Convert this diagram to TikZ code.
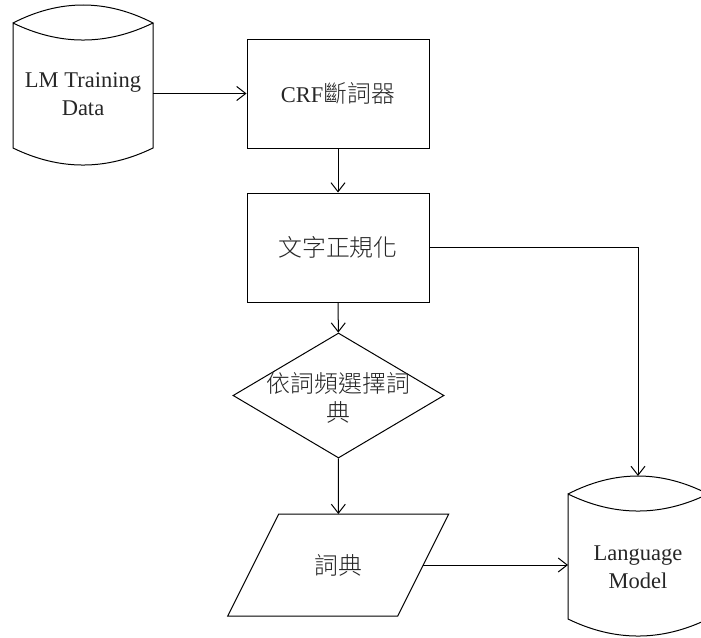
\documentclass[tikz,border=0pt]{standalone}
\usepackage{fontspec}
\setmainfont{Liberation Serif}
\newfontfamily\cjk[Scale=1.06]{Noto Sans CJK TC Light}
\usetikzlibrary{arrows.meta,calc,shapes.geometric}

% cylinder outline (database symbol) around a hidden body node
\newcommand\drawcyl[1]{%
  \draw (#1.north west) .. controls +(46.7,-24) and +(-46.7,-24) .. (#1.north east)
    .. controls +(-46.7,22.7) and +(46.7,22.7) .. (#1.north west)
    -- (#1.south west) .. controls +(46.7,22.7) and +(-46.7,22.7) .. (#1.south east)
    -- (#1.north east);}

\begin{document}
\begin{tikzpicture}[x=1pt,y=-1pt,line width=1pt,
  every node/.style={font=\fontsize{22.5}{28.5}\selectfont,align=center,text=black!85},
  flow/.style={-{Straight Barb[length=9pt,width=14pt]}},
  stepbox/.style={draw,rectangle,minimum width=182pt,minimum height=109pt,inner sep=0pt},
  hidden/.style={draw=none,inner sep=0pt,outer sep=0pt},
  cylbody/.style={hidden,minimum width=140pt,minimum height=125pt}]
\useasboundingbox (0,0) rectangle (701,637);

% data stores
\node[cylbody] (data) at (83,85.5) {};
\drawcyl{data}
\node (datatxt) at (83,94) {LM Training\\Data};

\node[cylbody] (lm) at (638,556.5) {};
\drawcyl{lm}
\node (lmtxt) at (638,567) {Language\\Model};
\coordinate (lmtop) at ($(lm.north)+(0,-18)$);

% processing steps
\node[stepbox] (crf) at (338,93.5) {CRF{\cjk 斷詞器}};
\node[stepbox] (norm) at (338,247.5) {{\cjk 文字正規化}};

% decision
\node[draw,diamond,minimum width=211pt,minimum height=125pt,inner sep=0pt] (choose) at (338.5,395.5) {};
\node (choosetxt) at (338.5,398) {{\cjk 依詞頻選擇詞}\\{\cjk 典}};

% output dictionary (parallelogram)
\node[hidden,minimum width=170pt,minimum height=102pt] (dict) at (338.25,565) {{\cjk 詞典}};
\draw ($(dict.north west)+(25.5,0)$) -- ($(dict.north east)+(25.5,0)$)
  -- ($(dict.south east)+(-25.5,0)$) -- ($(dict.south west)+(-25.5,0)$) -- cycle;

% connectors
\draw[flow] (data.east |- crf.west) -- (crf.west);
\draw[flow] (crf) -- (norm);
\draw[flow] (norm) -- (choose);
\draw[flow] (choose) -- (dict);
\draw[flow] (dict.east) -- (dict.east -| lm.west);
\draw[flow] (norm.east) -| (lmtop);
\end{tikzpicture}
\end{document}
